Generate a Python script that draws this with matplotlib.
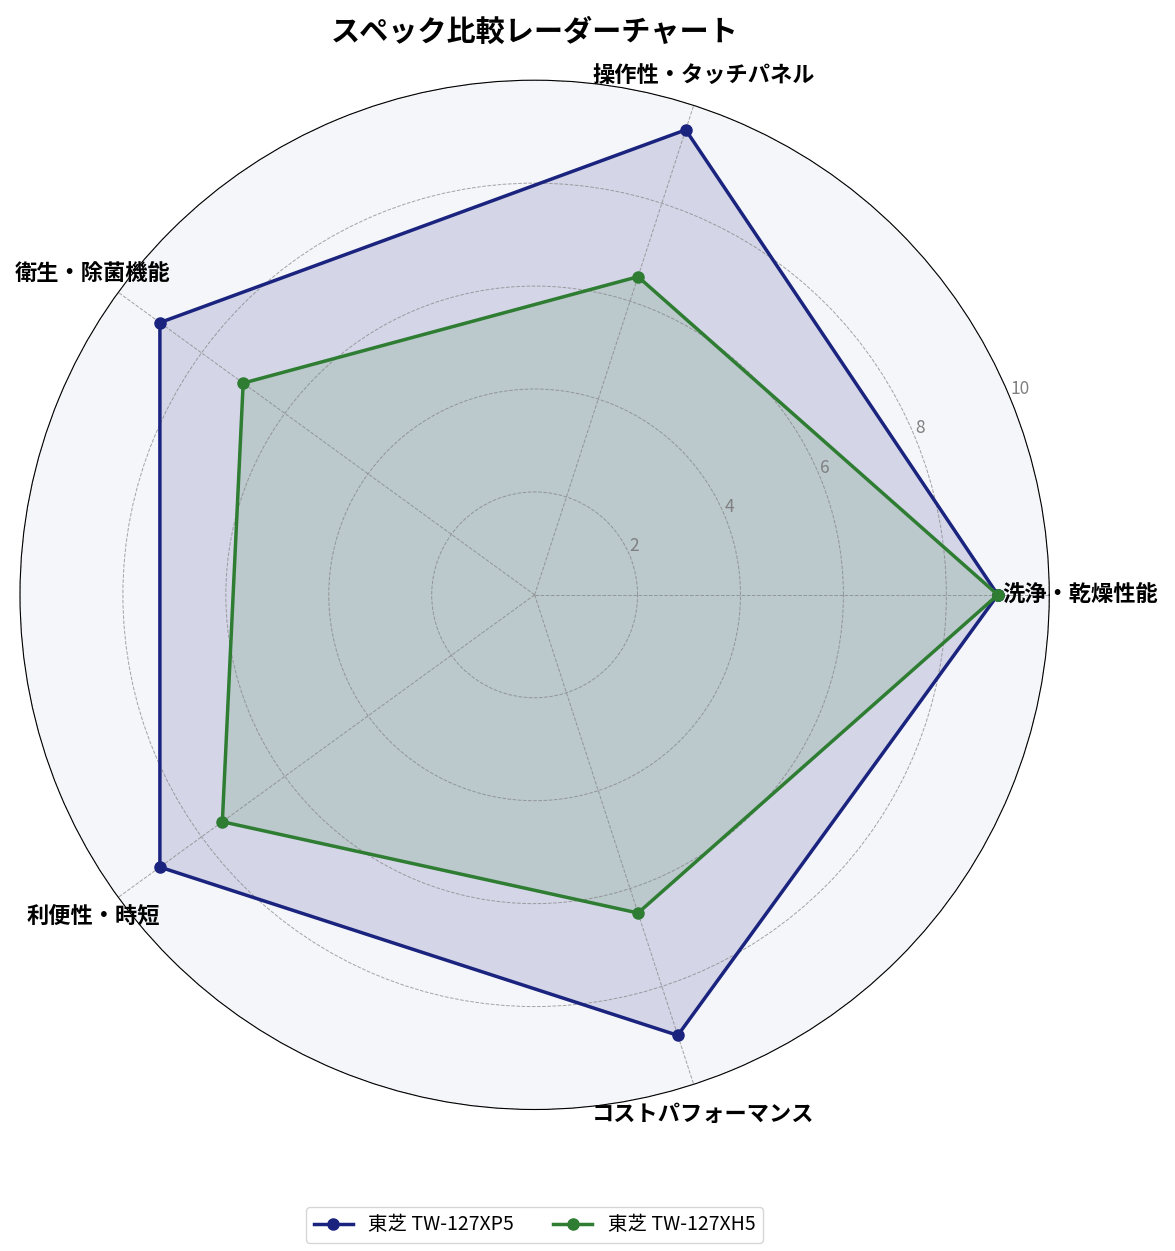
import numpy as np
import matplotlib
matplotlib.use("Agg")
import matplotlib.pyplot as plt

plt.rcParams['font.family'] = ['Noto Sans CJK JP', 'DejaVu Sans']

# data
categories = ["洗浄・乾燥性能", "操作性・タッチパネル", "衛生・除菌機能", "利便性・時短", "コストパフォーマンス"]
xp5 = [9.0, 9.5, 9.0, 9.0, 9.0]
xh5 = [9.0, 6.5, 7.0, 7.5, 6.5]
names = ["東芝 TW-127XP5", "東芝 TW-127XH5"]
colors = ["#1a237e", "#2e7d32"]

angles = np.linspace(0, 2 * np.pi, len(categories), endpoint=False).tolist()
angles += angles[:1]

fig = plt.figure(figsize=(11.75, 12.51), dpi=100)
ax = fig.add_axes([0.017, 0.113, 0.876, 0.823], polar=True)
ax.set_facecolor("#f5f6fa")

for vals, name, c in zip([xp5, xh5], names, colors):
    v = vals + vals[:1]
    ax.plot(angles, v, color=c, linewidth=2.5, marker="o", markersize=8, label=name)
    ax.fill(angles, v, color=c, alpha=0.15)

ax.set_xticks(angles[:-1])
ax.set_xticklabels(categories, fontsize=16, fontweight="bold")
ax.tick_params(axis="x", pad=12)
ax.set_ylim(0, 10)
ax.set_yticks([2, 4, 6, 8, 10])
ax.set_yticklabels(["2", "4", "6", "8", "10"], color="gray", fontsize=12.5)
ax.set_rlabel_position(22.5)
ax.grid(color="gray", linestyle="--", linewidth=0.7, alpha=0.7)

ax.set_title("スペック比較レーダーチャート", fontsize=21, fontweight="bold", pad=28)
ax.legend(loc="upper center", bbox_to_anchor=(0.5, -0.085), ncol=2, fontsize=14)

fig.savefig("out.png", dpi=100)
